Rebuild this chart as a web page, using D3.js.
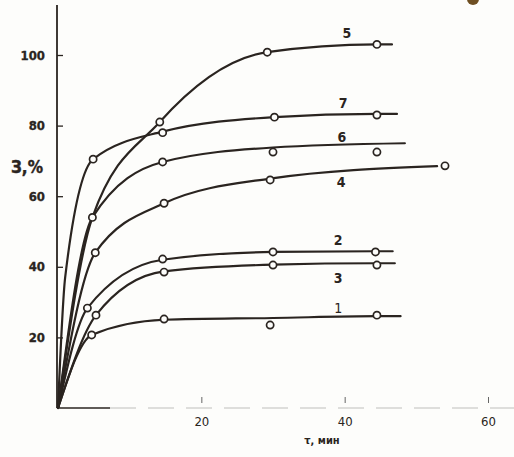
<!DOCTYPE html>
<html>
<head>
<meta charset="utf-8">
<script src="https://cdn.jsdelivr.net/npm/d3@7"></script>
<style>
  html, body { margin: 0; padding: 0; background: #fdfdfb; }
  svg { display: block; }
  text { font-family: "DejaVu Sans", sans-serif; font-stretch: condensed; fill: #2a2420; }
</style>
</head>
<body>
<svg id="chart" width="514" height="457"></svg>
<script>
// curve names as printed on the figure
const curveNames = ["1", "2", "3", "4", "5", "6", "7"];

// drawn (smoothed) lines: [time, min ; value, %]
const line1 = [[0, 0], [4.7, 20.7], [14.8, 25], [30, 25.5], [44.5, 26], [47.8, 26]];
const line2 = [[0, 0], [4.1, 28.3], [14.6, 42], [30, 44.2], [44.3, 44.4], [46.7, 44.4]];
const line3 = [[0, 0], [5.3, 26.3], [14.8, 38.7], [30, 40.6], [44.5, 41], [47, 41]];
const line4 = [[0, 0], [5.2, 44], [14.8, 58], [29.6, 65], [52.9, 68.5]];
const line5 = [[0, 0], [4.8, 54], [14.2, 81], [29.2, 100.8], [44.5, 103], [46.6, 103]];
const line6 = [[0, 0], [4.8, 54], [14.6, 69.7], [30, 73.8], [48.4, 75]];
const line7 = [[0, 0], [1, 37], [4.9, 70.5], [14.6, 78.3], [30.2, 82.4], [44.5, 83.3], [47.3, 83.3]];

// measured points (open circles)
const pts1 = [[4.7, 20.7], [14.8, 25.2], [29.6, 23.5], [44.5, 26.3]];
const pts2 = [[4.1, 28.3], [14.6, 42.2], [30, 44.2], [44.3, 44.2]];
const pts3 = [[5.3, 26.3], [14.8, 38.5], [30, 40.5], [44.5, 40.5]];
const pts4 = [[5.2, 44], [14.8, 58], [29.6, 64.6], [54, 68.6]];
const pts5 = [[14.2, 81], [29.2, 100.8], [44.5, 103]];
const pts6 = [[4.8, 54], [14.6, 69.7], [30, 72.5], [44.5, 72.5]];
const pts7 = [[4.9, 70.5], [14.6, 78], [30.2, 82.4], [44.5, 83]];

// where the curve numbers sit
const nameAt = [[39.1, 28.3], [39.1, 47.6], [39.1, 36.8], [39.5, 64], [40.3, 106.2], [39.6, 76.8], [39.8, 86.4]];

const xTicks = [20, 40, 60];
const yTicks = [20, 40, 60, 80, 100];

const lines = [line1, line2, line3, line4, line5, line6, line7];
const points = [pts1, pts2, pts3, pts4, pts5, pts6, pts7];

const ink = "#2a2420";
const svg = d3.select("#chart");

const x = d3.scaleLinear().domain([0, 60]).range([58, 488]);
const y = d3.scaleLinear().domain([0, 100]).range([408, 55]);

// scanner speck, top right
svg.append("circle").attr("cx", 473).attr("cy", -1).attr("r", 6).attr("fill", "#6e4f22");

// y axis
const yAxis = svg.append("g")
    .attr("transform", `translate(${x(0) - 1},0)`)
    .call(d3.axisLeft(y).tickValues(yTicks).tickSize(-6).tickPadding(12));
yAxis.select(".domain").remove();
yAxis.selectAll(".tick line").attr("stroke", ink).attr("stroke-width", 1.3);
yAxis.selectAll(".tick text")
    .attr("font-size", 13).attr("font-weight", "bold").attr("fill", ink)
    .attr("stroke", ink).attr("stroke-width", 0.3);
yAxis.append("line")
    .attr("x1", 0).attr("x2", 0).attr("y1", 5).attr("y2", y(0))
    .attr("stroke", ink).attr("stroke-width", 1.8);

// x axis (faint in the scan)
const xAxis = svg.append("g")
    .attr("transform", `translate(0,${y(0)})`)
    .call(d3.axisBottom(x).tickValues(xTicks).tickSize(-8).tickPadding(9));
xAxis.select(".domain").remove();
xAxis.selectAll(".tick line").attr("stroke", "#555").attr("stroke-width", 0.9).attr("y2", -5).attr("y1", -11);
xAxis.selectAll(".tick text").attr("font-size", 13).attr("fill", "#3a3430");
xAxis.append("line")
    .attr("x1", x(0) - 1).attr("x2", 110).attr("y1", 0).attr("y2", 0)
    .attr("stroke", ink).attr("stroke-width", 1.4);
xAxis.append("line")
    .attr("x1", 110).attr("x2", 514).attr("y1", 0).attr("y2", 0)
    .attr("stroke", "#b8b8b4").attr("stroke-width", 0.9).attr("stroke-dasharray", "26,12");

// axis titles
svg.append("text").attr("x", 27).attr("y", 173).attr("text-anchor", "middle")
    .attr("font-size", 17).attr("font-weight", "bold").attr("stroke", ink).attr("stroke-width", 0.4)
    .text("З,%");
svg.append("text").attr("x", 322).attr("y", 444).attr("text-anchor", "middle")
    .attr("font-size", 11).attr("font-weight", "bold")
    .text("τ, мин");

// curves
const line = d3.line().x(d => x(d[0])).y(d => y(d[1])).curve(d3.curveMonotoneX);

svg.append("g").selectAll("path")
    .data(lines)
    .enter().append("path")
    .attr("d", line)
    .attr("fill", "none")
    .attr("stroke", ink)
    .attr("stroke-width", 2.2)
    .attr("stroke-linecap", "round");

// measured points
points.forEach(ps => {
    svg.append("g").selectAll("circle")
        .data(ps)
        .enter().append("circle")
        .attr("cx", d => x(d[0]))
        .attr("cy", d => y(d[1]))
        .attr("r", 3.6)
        .attr("fill", "#fdfdfb")
        .attr("stroke", ink)
        .attr("stroke-width", 1.7);
});

// curve numbers
svg.append("g").selectAll("text")
    .data(curveNames)
    .enter().append("text")
    .attr("x", (d, i) => x(nameAt[i][0]))
    .attr("y", (d, i) => y(nameAt[i][1]) + 5)
    .attr("text-anchor", "middle")
    .attr("font-size", 14)
    .attr("font-weight", (d) => d === "1" ? "normal" : "bold")
    .text(d => d);
</script>
</body>
</html>
